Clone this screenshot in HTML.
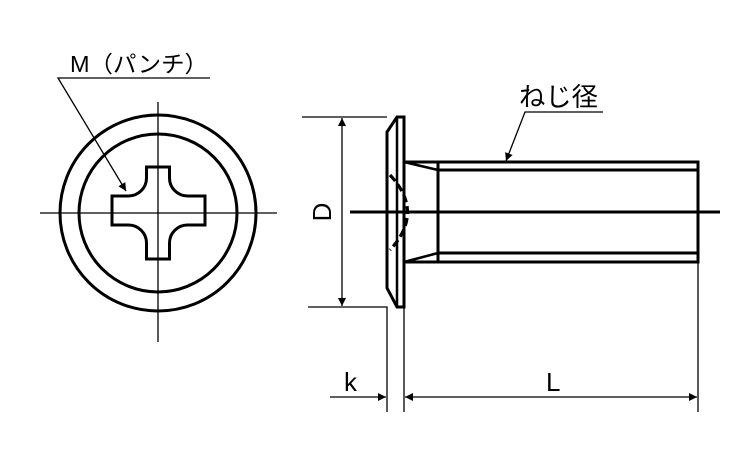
<!DOCTYPE html>
<html><head><meta charset="utf-8"><style>
html,body{margin:0;padding:0;background:#fff;}
svg{display:block;}
text{font-family:"Liberation Sans","Noto Sans CJK JP",sans-serif;fill:#000;}
</style></head><body>
<svg width="750" height="450" viewBox="0 0 750 450" xmlns="http://www.w3.org/2000/svg">
<defs>
<marker id="a" viewBox="0 0 10 10" refX="10" refY="5" markerWidth="17" markerHeight="8" markerUnits="userSpaceOnUse" orient="auto"><path d="M0,0L10,5L0,10z" fill="#000"/></marker>
</defs>
<g stroke="#000" fill="none">
<line x1="40" y1="213" x2="277" y2="213" stroke-width="1.3"/>
<line x1="158" y1="102" x2="158" y2="342" stroke-width="1.3"/>
<circle cx="158" cy="213" r="98" stroke-width="3"/>
<circle cx="158" cy="213" r="79" stroke-width="3"/>
<path d="M146.5,167 H169.5 V178 A18,18 0 0 0 187.5,196 H205 V225 H187.5 A18,18 0 0 0 169.5,243 V259 H146.5 V243 A18,18 0 0 0 128.5,225 H112 V196 H128.5 A18,18 0 0 0 146.5,178 Z" stroke-width="3"/>
<polyline points="210,78 58,78 126,191" stroke-width="1.3" marker-end="url(#a)"/>
</g>
<text x="70" y="72" font-size="23" textLength="138" lengthAdjust="spacingAndGlyphs">M（パンチ）</text>
<g stroke="#000" fill="none">
<line x1="350" y1="212" x2="720" y2="212" stroke-width="3"/>
<path d="M397,117 H404 V307 H397 L387,288 V132 Z" stroke-width="3"/>
<line x1="397" y1="117" x2="397" y2="307" stroke-width="2.5"/>
<path d="M404,162 H698 V262 H404" stroke-width="3"/>
<line x1="438" y1="162" x2="438" y2="262" stroke-width="3"/>
<line x1="438" y1="170" x2="697" y2="170" stroke-width="3"/>
<line x1="438" y1="253" x2="697" y2="253" stroke-width="3"/>
<line x1="404" y1="162" x2="438" y2="170" stroke-width="2.5"/>
<line x1="404" y1="262" x2="438" y2="253" stroke-width="2.5"/>
<path d="M390,175 Q425,212 390,250" stroke-width="3.2" stroke-dasharray="8,4"/>
<line x1="302" y1="117" x2="387" y2="117" stroke-width="1.3"/>
<polyline points="308,307 387,307 387,412" stroke-width="1.3"/>
<line x1="404" y1="307" x2="404" y2="412" stroke-width="1.3"/>
<line x1="698" y1="262" x2="698" y2="412" stroke-width="1.3"/>
<line x1="342" y1="212" x2="342" y2="118" stroke-width="1.3" marker-end="url(#a)"/>
<line x1="342" y1="212" x2="342" y2="306" stroke-width="1.3" marker-end="url(#a)"/>
<line x1="330" y1="397" x2="386" y2="397" stroke-width="1.3" marker-end="url(#a)"/>
<line x1="550" y1="397" x2="405" y2="397" stroke-width="1.3" marker-end="url(#a)"/>
<line x1="550" y1="397" x2="697" y2="397" stroke-width="1.3" marker-end="url(#a)"/>
<polyline points="603,112 525,112 506,161" stroke-width="1.3" marker-end="url(#a)"/>
</g>
<text x="519" y="106" font-size="26" textLength="79" lengthAdjust="spacingAndGlyphs">ねじ径</text>
<text x="344" y="391" font-size="26">k</text>
<text x="546" y="391" font-size="26">L</text>
<text transform="translate(331,212) rotate(-90)" text-anchor="middle" font-size="26">D</text>
</svg>
</body></html>
